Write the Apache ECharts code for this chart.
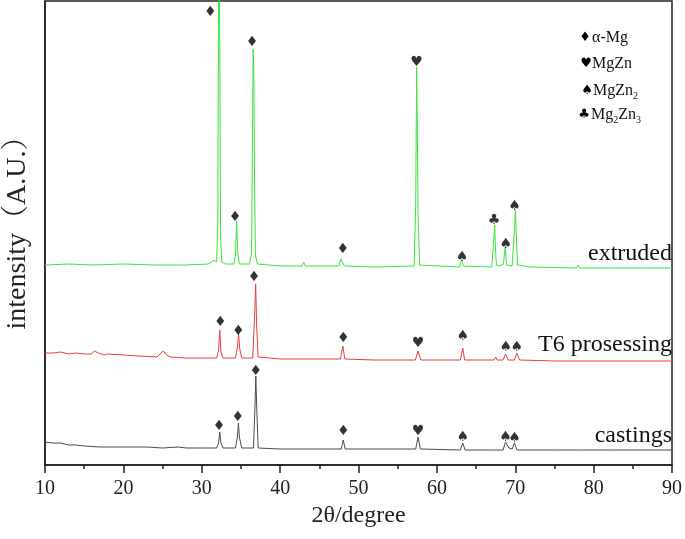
<!DOCTYPE html>
<html>
<head>
<meta charset="utf-8">
<script src="https://cdn.jsdelivr.net/npm/echarts@6/dist/echarts.min.js"></script>
<style>html,body{margin:0;padding:0;background:#fff}#c{width:685px;height:539px}</style>
</head>
<body>
<div id="c"></div>
<script>
// 2θ tick labels
var xTicks = [10, 20, 30, 40, 50, 60, 70, 80, 90];
// Series: [2θ, intensity (arbitrary, offset-stacked)]
var extruded = [[10,200],[13,201],[16,200],[20,201],[24,200],[28,200],[30.8,201],[31.3,203],[31.6,205],[31.9,203],[32.05,240],[32.15,480],[32.22,560],[32.3,420],[32.4,230],[32.55,203],[33,201],[34.1,201],[34.3,210],[34.45,244],[34.6,212],[34.8,201],[36.1,201],[36.35,212],[36.48,330],[36.56,416],[36.65,390],[36.72,300],[36.85,210],[37.1,201],[40,199],[42.8,199],[43,203],[43.2,199],[47.5,199],[47.75,206],[47.95,203],[48.2,199],[52,198],[57.1,199],[57.3,260],[57.42,398],[57.5,340],[57.6,250],[57.8,200],[62.9,198],[63.15,205],[63.4,199],[67.0,198],[67.25,225],[67.38,240],[67.48,215],[67.6,200],[68.0,199],[68.5,201],[68.72,218],[68.9,200],[69.6,199],[69.9,235],[70.02,255],[70.12,232],[70.3,200],[72,198],[77.8,197],[78.0,200],[78.2,197],[82,197],[86,197],[90,197]];
var t6 = [[10,112],[11,112],[12,113],[13,111],[14,112],[15,111],[15.9,111],[16.3,114],[16.5,115],[16.8,112],[17.5,110],[18,111],[20,110],[22,109],[24.3,108],[24.8,112],[25.1,114],[25.5,110],[26,108],[28,107],[31.9,107],[32.15,115],[32.3,135],[32.45,113],[32.7,107],[34.3,107],[34.55,118],[34.7,131],[34.85,116],[35.1,107],[36.5,107],[36.75,150],[36.88,181],[37.0,140],[37.2,108],[40,106],[44,106],[47.7,106],[48.0,119],[48.25,106],[52,105],[57.25,105],[57.6,114],[57.95,105],[63.0,105],[63.3,117],[63.55,105],[67.3,105],[67.5,108],[67.7,105],[68.45,105],[68.75,111],[69.1,105],[69.9,105],[70.2,112],[70.55,105],[75,104],[80,104],[85,104],[90,104]];
var castings = [[10,23],[11,22],[12,22],[13,20],[14,20],[15,19],[17,18],[20,18],[23,18],[25,17],[27,18],[28,17],[30,17],[31.9,17],[32.15,22],[32.3,33],[32.45,22],[32.7,17],[34.3,17],[34.55,28],[34.68,42],[34.8,28],[35.1,17],[36.6,17],[36.8,60],[36.9,89],[37.0,60],[37.2,17],[40,16],[44,16],[47.8,16],[48.05,25],[48.3,16],[52,16],[57.3,16],[57.6,28],[57.9,16],[63.0,15],[63.3,22],[63.6,15],[67.1,15],[67.3,17],[67.5,15],[68.45,15],[68.75,23],[69.2,17],[69.6,16],[69.9,22],[70.2,15],[75,15],[77.9,15],[78.1,17],[78.3,15],[82,15],[90,15]];
// Phase markers [2θ, intensity]
var alphaMg = [[31.1,453],[34.25,248],[36.4,423],[48.0,216],[32.35,143],[34.67,134],[36.67,188],[48.06,127],[32.2,39],[34.6,48],[36.9,94],[48.06,34]];
var mgZn = [[57.4,403],[57.6,122],[57.6,34]];
var mgZn2 = [[63.2,208],[68.8,221],[69.9,259],[63.3,129],[68.8,118],[70.2,118],[63.3,28],[68.75,28],[69.9,27]];
var mg2Zn3 = [[67.3,245]];
var sampleNames = ['extruded', 'T6 prosessing', 'castings'];

var SERIF = "'Liberation Serif','Noto Serif CJK SC','Noto Sans CJK SC',serif";
var chart = echarts.init(document.getElementById('c'), null, {renderer:'canvas'});

function markerSeries(data, glyph){
  return {type:'scatter', data:data, symbol:'circle', symbolSize:1, z:5,
    itemStyle:{color:'rgba(0,0,0,0)'},
    label:{show:true, position:'inside', formatter:glyph, color:'#000', fontSize:14, fontFamily:'DejaVu Sans'},
    silent:true};
}
function lineSeries(data, color){
  return {type:'line', data:data, showSymbol:false, symbol:'none', lineStyle:{color:color, width:1}, z:3, silent:true};
}

var legendRows = [
  {g:'♦', gx:585, y:38, t:'{t|α-Mg}', tx:592},
  {g:'♥', gx:586, y:64, t:'{t|MgZn}', tx:592},
  {g:'♠', gx:587, y:91, t:'{t|MgZn}{s|2}', tx:593},
  {g:'♣', gx:584, y:115, t:'{t|Mg}{s|2}{t|Zn}{s|3}', tx:591}
];
var graphics = [];
legendRows.forEach(function(r){
  graphics.push({type:'text', x:r.gx, y:r.y, style:{text:r.g, fill:'#000', font:'13px DejaVu Sans', align:'center', verticalAlign:'middle'}});
  graphics.push({type:'text', x:r.tx, y:r.y, style:{text:r.t, fill:'#111', align:'left', verticalAlign:'middle',
    rich:{t:{fontSize:16, fontFamily:SERIF, lineHeight:20, verticalAlign:'middle', color:'#111'},
          s:{fontSize:10, fontFamily:SERIF, lineHeight:10, verticalAlign:'bottom', color:'#111'}}}});
});
var labelY = [254, 345, 436];
sampleNames.forEach(function(n, i){
  graphics.push({type:'text', x:672, y:labelY[i], style:{text:n, fill:'#111', font:'24px '+SERIF, align:'right', verticalAlign:'middle'}});
});
// y-axis title
graphics.push({type:'text', x:18, y:226, rotation:Math.PI/2,
  style:{text:'intensity（A.U.）', fill:'#222', font:'28px '+SERIF, align:'center', verticalAlign:'middle'}});

chart.setOption({
  animation:false,
  grid:{left:45, right:10, top:1, bottom:74, show:true, borderColor:'#222', borderWidth:1.5},
  xAxis:{type:'value', min:xTicks[0], max:xTicks[xTicks.length-1], interval:10,
    axisLine:{show:true, onZero:false, lineStyle:{color:'#222', width:1.5}},
    axisTick:{show:true, length:8, lineStyle:{color:'#222', width:1.5}},
    minorTick:{show:true, splitNumber:2, length:4, lineStyle:{color:'#222', width:1.5}},
    splitLine:{show:false},
    axisLabel:{fontFamily:SERIF, fontSize:20, color:'#222', margin:14},
    name:'2θ/degree', nameLocation:'middle', nameGap:38,
    nameTextStyle:{fontFamily:SERIF, fontSize:24, color:'#222'}},
  yAxis:{type:'value', min:0, max:464,
    axisLine:{show:true, lineStyle:{color:'#222', width:1.5}},
    axisTick:{show:false}, axisLabel:{show:false}, splitLine:{show:false}},
  series:[
    lineSeries(castings, '#4a4a4a'),
    lineSeries(t6, '#ee3b3b'),
    lineSeries(extruded, '#3ee23e'),
    markerSeries(alphaMg, '♦'),
    markerSeries(mgZn, '♥'),
    markerSeries(mgZn2, '♠'),
    markerSeries(mg2Zn3, '♣')
  ],
  graphic:graphics
});
</script>
</body>
</html>
